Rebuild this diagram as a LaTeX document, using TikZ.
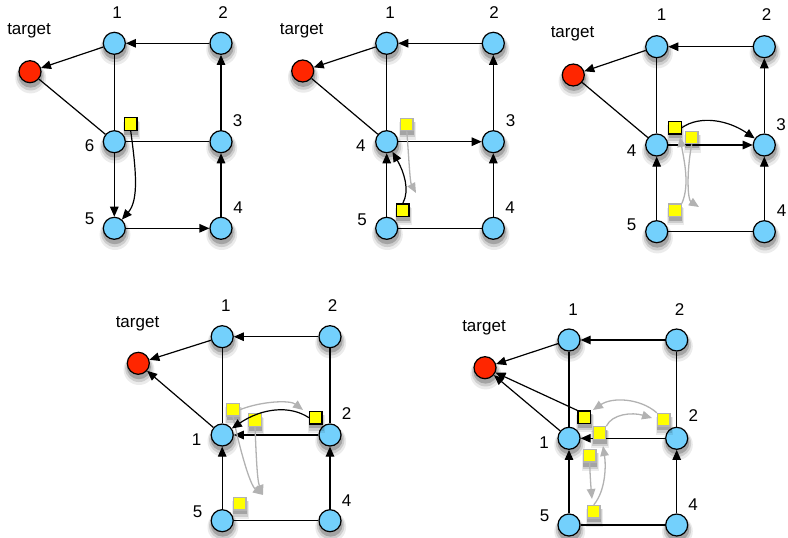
\documentclass[tikz,border=0pt]{standalone}
\usepackage{fontspec}
\setmainfont{Liberation Sans}
\usetikzlibrary{arrows.meta,shadows}
\definecolor{skyblue}{RGB}{115,208,252}
\definecolor{goalred}{RGB}{255,38,0}
\definecolor{tokenyellow}{RGB}{255,255,0}
\definecolor{trailgrey}{RGB}{178,178,178}
\begin{document}
\begin{tikzpicture}[>={Triangle[length=10pt,width=8.5pt]}, x=1pt, y=1pt, line width=1.2pt,
  haze/.style={
    drop shadow={shadow xshift=0.5pt, shadow yshift=-4.5pt, shadow scale=1.4, opacity=0.08, fill=black},
    drop shadow={shadow xshift=0.5pt, shadow yshift=-4pt, shadow scale=1.25, opacity=0.13, fill=black},
    drop shadow={shadow xshift=0.5pt, shadow yshift=-3.5pt, shadow scale=1.1, opacity=0.2, fill=black}},
  vertex/.style={circle, draw, fill=skyblue, minimum size=22pt, inner sep=0pt, haze},
  goal/.style={vertex, fill=goalred},
  token/.style={rectangle, draw, fill=tokenyellow, minimum size=12.5pt, inner sep=0pt, haze},
  oldtoken/.style={token, draw=trailgrey},
  trail/.style={->, draw=trailgrey, line width=1.3pt},
  num/.style={anchor=base, inner sep=0pt, font=\fontsize{17}{20}\selectfont}]
\useasboundingbox (0,0) rectangle (788,-538);

\node[goal] (t1) at (30,-71.7) {};
\node[vertex] (a1) at (114.3,-43.3) {};
\node[vertex] (b1) at (221,-43.3) {};
\node[vertex] (c1) at (114.3,-141.7) {};
\node[vertex] (d1) at (221,-141.7) {};
\node[vertex] (e1) at (114.3,-228.3) {};
\node[vertex] (f1) at (221,-228.3) {};
\node[num] (lt1) at (29,-34.5) {target};
\node[num] (la1) at (117,-18.3) {1};
\node[num] (lb1) at (223,-18.3) {2};
\node[num] (lc1) at (89.5,-151.7) {6};
\node[num] (ld1) at (237.7,-126.7) {3};
\node[num] (le1) at (89.5,-224) {5};
\node[num] (lf1) at (238,-213.3) {4};
\draw[->] (b1) -- (a1);
\draw[->] (a1) -- (t1);
\draw (t1) -- (c1);
\draw (a1) -- (c1);
\draw (c1) -- (d1);
\draw[->] (c1) -- (e1);
\draw[->] (e1) -- (f1);
\draw[->] (f1) -- (d1);
\draw[->] (d1) -- (b1);
\node[token] (k1) at (130.7,-124) {};
\draw[->] (k1.south) .. controls (136,-170) and (139,-200) .. (e1);

\node[goal] (t2) at (302.7,-71) {};
\node[vertex] (a2) at (386.7,-43.3) {};
\node[vertex] (b2) at (493.3,-43.3) {};
\node[vertex] (c2) at (386.7,-141.7) {};
\node[vertex] (d2) at (493.3,-141.7) {};
\node[vertex] (e2) at (386.7,-228.3) {};
\node[vertex] (f2) at (493.3,-228.3) {};
\node[num] (lt2) at (301.7,-34.5) {target};
\node[num] (la2) at (390,-18.3) {1};
\node[num] (lb2) at (494.2,-18.3) {2};
\node[num] (lc2) at (360.8,-151.7) {4};
\node[num] (ld2) at (510.7,-126.7) {3};
\node[num] (le2) at (362,-225) {5};
\node[num] (lf2) at (510,-213.3) {4};
\draw[->] (b2) -- (a2);
\draw[->] (a2) -- (t2);
\draw (t2) -- (c2);
\draw (a2) -- (c2);
\draw[->] (c2) -- (d2);
\draw[->] (e2) -- (c2);
\draw (e2) -- (f2);
\draw[->] (f2) -- (d2);
\draw[->] (d2) -- (b2);
\node[oldtoken] (g2) at (406.8,-124.5) {};
\node[token] (k2) at (402.8,-210.3) {};
\coordinate (r2) at (416,-193);
\draw[trail] (g2.south) .. controls (409,-160) and (410,-182) .. (r2);
\draw[->] (k2.north) .. controls (410,-190) and (404,-172) .. (c2);

\node[goal] (t3) at (573.3,-75) {};
\node[vertex] (a3) at (656.7,-46.7) {};
\node[vertex] (b3) at (764.3,-46.7) {};
\node[vertex] (c3) at (656.7,-145) {};
\node[vertex] (d3) at (764.3,-145) {};
\node[vertex] (e3) at (656.7,-231.7) {};
\node[vertex] (f3) at (764.3,-231.7) {};
\node[num] (lt3) at (572.5,-37.3) {target};
\node[num] (la3) at (661.7,-20) {1};
\node[num] (lb3) at (766.7,-20) {2};
\node[num] (lc3) at (631.7,-156) {4};
\node[num] (ld3) at (781,-130) {3};
\node[num] (le3) at (631.7,-230) {5};
\node[num] (lf3) at (781.7,-216.7) {4};
\draw[->] (b3) -- (a3);
\draw[->] (a3) -- (t3);
\draw (t3) -- (c3);
\draw (a3) -- (c3);
\draw[->] (c3) -- (d3);
\draw[->] (e3) -- (c3);
\draw (e3) -- (f3);
\draw[->] (f3) -- (d3);
\draw[->] (d3) -- (b3);
\node[token] (k3) at (675,-127.7) {};
\node[oldtoken] (g3a) at (691.7,-137.5) {};
\node[oldtoken] (g3b) at (675,-210.3) {};
\coordinate (r3a) at (699,-207);
\coordinate (r3b) at (680,-137);
\draw[trail] (g3a.south) .. controls (686,-175) and (688,-200) .. (r3a);
\draw[trail] (g3b.north east) .. controls (690,-185) and (684,-160) .. (r3b);
\draw[->] (k3.east) .. controls (700,-115) and (728,-120) .. (d3);

\node[goal] (t4) at (138.3,-363.3) {};
\node[vertex] (a4) at (222.2,-336.7) {};
\node[vertex] (b4) at (330,-336.7) {};
\node[vertex] (c4) at (222.2,-435) {};
\node[vertex] (d4) at (330,-435) {};
\node[vertex] (e4) at (222.2,-520.7) {};
\node[vertex] (f4) at (330,-520.7) {};
\node[num] (lt4) at (137.5,-327.7) {target};
\node[num] (la4) at (225.8,-311.7) {1};
\node[num] (lb4) at (332.5,-311.7) {2};
\node[num] (lc4) at (196.7,-445.7) {1};
\node[num] (ld4) at (346.7,-419) {2};
\node[num] (le4) at (197.5,-517.3) {5};
\node[num] (lf4) at (346.7,-506.7) {4};
\draw[->] (b4) -- (a4);
\draw[->] (a4) -- (t4);
\draw[->] (c4) -- (t4);
\draw (a4) -- (c4);
\draw (b4) -- (d4);
\draw[->] (d4) -- (c4);
\draw[->] (e4) -- (c4);
\draw (e4) -- (f4);
\draw[->] (f4) -- (d4);
\node[oldtoken] (g4a) at (233,-409.7) {};
\node[oldtoken] (g4b) at (255,-420) {};
\node[token] (k4) at (315.7,-417.7) {};
\node[oldtoken] (g4c) at (239.7,-503.7) {};
\coordinate (r4a) at (303,-410);
\coordinate (r4b) at (263,-495);
\draw[trail] (g4a.east) .. controls (262,-401) and (290,-400) .. (r4a);
\draw[trail] (g4a.south) .. controls (240,-450) and (250,-485) .. (r4b);
\draw[trail] (g4b.south) .. controls (256,-450) and (257,-480) .. (r4b);
\draw[->] (k4.west) .. controls (290,-405) and (262,-408) .. (c4);

\node[goal] (t5) at (485,-367.7) {};
\node[vertex] (a5) at (569,-340) {};
\node[vertex] (b5) at (676.7,-340) {};
\node[vertex] (c5) at (569,-438.3) {};
\node[vertex] (d5) at (676.7,-438.3) {};
\node[vertex] (e5) at (569,-525) {};
\node[vertex] (f5) at (676.7,-525) {};
\node[num] (lt5) at (484,-331) {target};
\node[num] (la5) at (573,-315) {1};
\node[num] (lb5) at (679.5,-315) {2};
\node[num] (lc5) at (544,-448.3) {1};
\node[num] (ld5) at (693.3,-421.7) {2};
\node[num] (le5) at (544.7,-521.7) {5};
\node[num] (lf5) at (693,-510) {4};
\draw[->] (b5) -- (a5);
\draw[->] (a5) -- (t5);
\draw[->] (c5) -- (t5);
\draw (a5) -- (c5);
\draw (b5) -- (d5);
\draw[->] (d5) -- (c5);
\draw[->] (e5) -- (c5);
\draw (e5) -- (f5);
\draw[->] (f5) -- (d5);
\node[token] (k5) at (584.3,-417.3) {};
\node[oldtoken] (g5d) at (663.7,-419.7) {};
\node[oldtoken] (g5e) at (599.5,-433) {};
\node[oldtoken] (g5f) at (589.7,-455.8) {};
\node[oldtoken] (g5g) at (593.8,-511.7) {};
\coordinate (r5a) at (593,-410);
\coordinate (r5b) at (652,-418);
\coordinate (r5c) at (592,-499);
\coordinate (r5d) at (603,-446);
\draw[trail] (g5d.north west) .. controls (640,-398) and (612,-397) .. (r5a);
\draw[trail] (g5e.north east) .. controls (612,-414) and (632,-412) .. (r5b);
\draw[trail] (g5f.south) .. controls (590,-475) and (591,-488) .. (r5c);
\draw[trail] (g5g.north) .. controls (606,-490) and (606,-465) .. (r5d);
\draw[->] (k5.north west) -- (t5);
\end{tikzpicture}
\end{document}
